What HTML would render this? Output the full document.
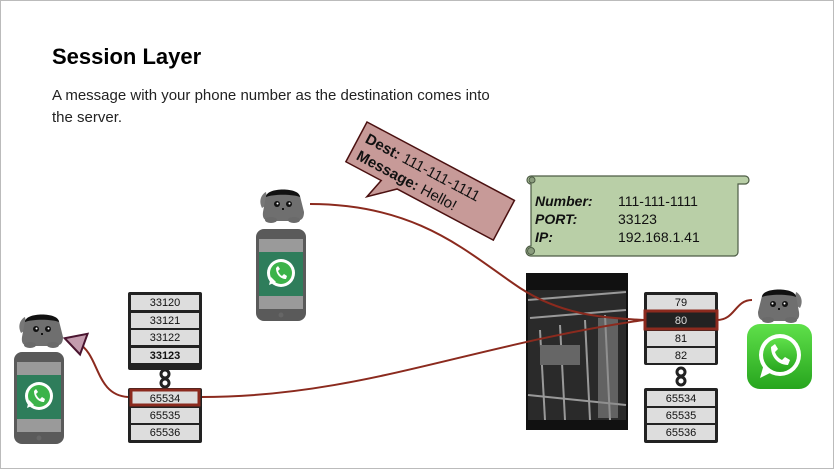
<!DOCTYPE html>
<html><head><meta charset="utf-8"><style>
body{margin:0;background:#fff}
svg{display:block}
</style></head><body>
<svg width="834" height="470" viewBox="0 0 834 470" xmlns="http://www.w3.org/2000/svg" font-family="Liberation Sans, sans-serif">
<defs>
<g id="cat">
  <path d="M4,20 C0,12 4,6 8,4 L10,16 Z" fill="#777"/>
  <path d="M8,8 C8,2 40,2 42,8 L46,24 C46,32 42,33 36,33 L14,33 C8,33 4,32 5,24 Z" fill="#6f6f6f"/>
  <ellipse cx="13" cy="32" rx="6" ry="3" fill="#6a6a6a"/><ellipse cx="36" cy="32" rx="6" ry="3" fill="#6a6a6a"/>
  <path d="M8,9 C8,-1 42,-1 42,9 C35,6 15,6 8,9 Z" fill="#111"/>
  <circle cx="19" cy="16" r="3" fill="#111"/><circle cx="31" cy="16" r="3" fill="#111"/>
  <circle cx="19.5" cy="15.5" r="1" fill="#fff"/><circle cx="31.5" cy="15.5" r="1" fill="#fff"/>
  <rect x="24" y="20" width="2" height="2" fill="#111"/>
</g>
<g id="phone">
  <rect x="0" y="0" width="50" height="92" rx="8" fill="#5a5a5a"/>
  <rect x="3" y="10" width="44" height="70" fill="#9a9a9a"/>
  <rect x="3" y="23" width="44" height="44" fill="#2e7d5b"/>
  <circle cx="25" cy="44" r="14" fill="#fff"/>
  <circle cx="25" cy="44" r="11" fill="#3cb34a"/>
  <path d="M13,56 L15,48 L20,53 Z" fill="#fff"/>
  <path d="M20,39 C20,46 25,50 30,50 L31,47 L28,45 L26,47 C24,46 23,44 22,42 L24,40 L22,37 Z" fill="#fff"/>
  <circle cx="25" cy="86" r="2.5" fill="#666"/>
</g>
<g id="chain" fill="none" stroke="#222" stroke-width="3">
  <circle cx="0" cy="0" r="4"/><circle cx="0" cy="9" r="4"/>
</g>
</defs>
<rect x="0.5" y="0.5" width="833" height="468" fill="#fff" stroke="#bbb"/>
<text x="52" y="64" font-size="22" font-weight="bold" fill="#000">Session Layer</text>
<text x="52" y="100" font-size="15" fill="#222">A message with your phone number as the destination comes into</text>
<text x="52" y="122" font-size="15" fill="#222">the server.</text>

<!-- server image -->
<rect x="526" y="273" width="102" height="157" fill="#111"/>
<rect x="528" y="290" width="98" height="130" fill="#2a2a2a"/>
<g stroke="#999" stroke-width="2" fill="none">
<path d="M528,300 L626,292"/><path d="M530,318 L626,310"/>
<path d="M540,330 L545,420"/><path d="M560,325 L565,420"/><path d="M585,320 L590,420"/><path d="M605,315 L610,420"/>
<path d="M528,395 L626,405"/>
</g>
<rect x="598" y="318" width="20" height="100" fill="#888" opacity="0.6"/>
<rect x="540" y="345" width="40" height="20" fill="#666"/>

<!-- curves -->
<g fill="none" stroke="#8b2a1e" stroke-width="2">
<path d="M310,204 C420,204 470,255 520,288 C560,314 600,318 644,320"/>
<path d="M201,397 C360,397 470,345 644,320"/>
<path d="M128,397 C95,395 100,355 78,343"/>
<path d="M717,320 C735,320 735,300 752,300"/>
</g>
<polygon points="64,342 84,330 84,352" fill="#c49cae" stroke="#4a1530" stroke-width="2" transform="rotate(20 75 342)"/>

<!-- stacks -->
<g font-size="11" text-anchor="middle" fill="#111">
<rect x="128" y="292" width="74" height="78" fill="#222" rx="2"/>
<rect x="131" y="295" width="68" height="15" fill="#ddd"/><text x="165" y="306">33120</text>
<rect x="131" y="313" width="68" height="15" fill="#ddd"/><text x="165" y="324">33121</text>
<rect x="131" y="330" width="68" height="15" fill="#ddd"/><text x="165" y="341">33122</text>
<rect x="131" y="348" width="68" height="15" fill="#ddd"/><text x="165" y="359" font-weight="bold">33123</text>
<use href="#chain" x="165" y="374"/>
<rect x="128" y="388" width="74" height="55" fill="#222" rx="2"/>
<rect x="131" y="390" width="68" height="15" fill="#ddd" stroke="#8b2a1e" stroke-width="3"/><text x="165" y="402">65534</text>
<rect x="131" y="408" width="68" height="15" fill="#ddd"/><text x="165" y="419">65535</text>
<rect x="131" y="425" width="68" height="15" fill="#ddd"/><text x="165" y="436">65536</text>

<rect x="644" y="292" width="74" height="73" fill="#222" rx="2"/>
<rect x="647" y="295" width="68" height="15" fill="#ddd"/><text x="681" y="306">79</text>
<rect x="645" y="311" width="72" height="18" fill="#222" stroke="#8b2a1e" stroke-width="3"/><text x="681" y="324" fill="#ddd">80</text>
<rect x="647" y="331" width="68" height="15" fill="#ddd"/><text x="681" y="342">81</text>
<rect x="647" y="348" width="68" height="15" fill="#ddd"/><text x="681" y="359">82</text>
<use href="#chain" x="681" y="372"/>
<rect x="644" y="388" width="74" height="55" fill="#222" rx="2"/>
<rect x="647" y="391" width="68" height="15" fill="#ddd"/><text x="681" y="402">65534</text>
<rect x="647" y="408" width="68" height="15" fill="#ddd"/><text x="681" y="419">65535</text>
<rect x="647" y="425" width="68" height="15" fill="#ddd"/><text x="681" y="436">65536</text>
</g>

<!-- phones & cats -->
<use href="#phone" x="14" y="352"/>
<use href="#cat" x="17" y="313"/>
<use href="#phone" x="256" y="229"/>
<use href="#cat" x="258" y="188"/>
<g transform="translate(804,288) scale(-1,1)"><use href="#cat"/></g>

<!-- whatsapp icon -->
<defs><linearGradient id="wg" x1="0" y1="0" x2="0" y2="1"><stop offset="0" stop-color="#5fe04a"/><stop offset="1" stop-color="#27a51e"/></linearGradient></defs>
<rect x="747" y="324" width="65" height="65" rx="13" fill="url(#wg)"/>
<circle cx="780" cy="355" r="21" fill="#fff"/>
<circle cx="780" cy="355" r="17" fill="url(#wg)"/>
<path d="M760,378 L764,364 L772,372 Z" fill="#fff"/>
<path d="M771,347 C771,358 779,365 788,365 L790,360 L785,357 L782,360 C778,358 776,355 775,352 L778,349 L775,344 Z" fill="#fff"/>

<!-- pink note -->
<g transform="translate(367,122) rotate(28)">
<polygon points="0,0 167,0 167,45 58,45 35,66 40,45 0,45" fill="#c79a98" stroke="#4a1010" stroke-width="1.5"/>
<text x="7" y="19" font-size="15" fill="#111"><tspan font-weight="bold">Dest:</tspan> 111-111-1111</text>
<text x="7" y="38" font-size="15" fill="#111"><tspan font-weight="bold">Message:</tspan> Hello!</text>
</g>

<!-- green scroll -->
<path d="M531,176 L745,176 A4,4 0 0 1 745,184 L738,184 L738,252 A4,4 0 0 1 734,256 L531,256 A5,5 0 0 1 531,246 L531,184 A4,4 0 0 1 531,176 Z" fill="#b9cfa7" stroke="#4d5c45" stroke-width="1.2"/>
<circle cx="532" cy="180" r="3" fill="#8a9c7d" stroke="#4d5c45"/>
<circle cx="531" cy="251" r="3.5" fill="#8a9c7d" stroke="#4d5c45"/>
<g font-size="14" fill="#111">
<text x="535" y="206" font-weight="bold" font-style="italic">Number:</text><text x="618" y="206">111-111-1111</text>
<text x="535" y="224" font-weight="bold" font-style="italic">PORT:</text><text x="618" y="224">33123</text>
<text x="535" y="242" font-weight="bold" font-style="italic">IP:</text><text x="618" y="242">192.168.1.41</text>
</g>
</svg>
</body></html>
